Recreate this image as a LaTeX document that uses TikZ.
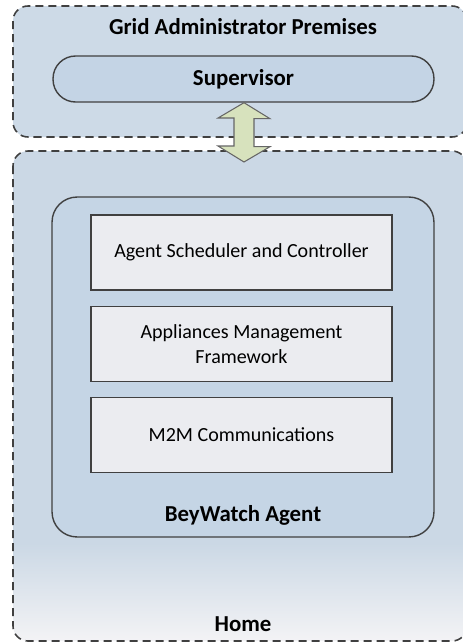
\documentclass[tikz,border=0pt]{standalone}
\usepackage{fontspec}
\setmainfont{Carlito}
\usetikzlibrary{calc}

\definecolor{bordo}{HTML}{404040}
\definecolor{gridblu}{HTML}{CDDAE7}
\definecolor{supblu}{HTML}{C4D4E5}
\definecolor{agenteblu}{HTML}{C5D5E5}
\definecolor{modgrigio}{HTML}{EBECF0}
\definecolor{frecciaverde}{HTML}{D7E2BD}
\definecolor{casablu}{HTML}{CBD8E5}
\definecolor{casabasso}{HTML}{F3F3F5}

% Sfumatura del riquadro Home (chiaro solo in fondo)
\pgfdeclareverticalshading{casashade}{100bp}{color(0bp)=(casabasso); color(25bp)=(casabasso); color(35bp)=(casablu); color(100bp)=(casablu)}

\tikzset{
  zona/.style={draw=bordo, line width=0.9pt, dash pattern=on 4.6pt off 2.8pt, rounded corners=0.3cm},
  titolo/.style={font=\bfseries\fontsize{13}{15}\selectfont, text=black},
  modulo/.style={draw=bordo, line width=0.9pt, fill=modgrigio, minimum width=6.02cm, minimum height=1.5cm,
                 align=center, font=\fontsize{11.4}{14}\selectfont, inner sep=2pt},
}

\begin{document}
\begin{tikzpicture}[x=0.02cm, y=-0.02cm]
    \useasboundingbox (0,0) rectangle (463,643);

    % Zona amministratore
    \draw[zona, fill=gridblu] (13,6) rectangle (467,137);
    \node[titolo] (gridtitle) at (243,27) {Grid Administrator Premises};
    \node[draw=bordo, line width=0.8pt, fill=supblu, rounded corners=0.45cm,
          minimum width=7.62cm, minimum height=0.92cm, titolo] (sup) at (243.5,79) {Supervisor};

    % Zona casa
    \shadedraw[zona, shading=casashade] (13,151) rectangle (467,641);
    \coordinate (home) at (243,151);
    \node[titolo] (hometitle) at (243,624) {Home};

    % Agente
    \node[draw=bordo, line width=0.8pt, fill=agenteblu, rounded corners=0.5cm,
          minimum width=7.64cm, minimum height=6.8cm] (agent) at (243,367) {};
    \node[titolo] (agenttitle) at (243,515) {BeyWatch Agent};

    \node[modulo] (sched) at (241.5,252.5) {Agent Scheduler and Controller};
    \node[modulo] (amf) at (241.5,344) {Appliances Management\\Framework};
    \node[modulo] (m2m) at (241.5,435) {M2M Communications};

    % Freccia doppia
    \coordinate (arrtop) at ($(sup.south)+(0.5,0)$);
    \coordinate (arrbot) at ($(home)+(1,11)$);
    \draw[draw=gray!80!black, line width=0.6pt, fill=frecciaverde]
      (arrtop) -- ++(0.52cm,-0.32cm) -- ++(-0.32cm,0) -- ++(0,-0.56cm) -- ++(0.32cm,0)
      -- (arrbot) -- ++(-0.52cm,0.32cm) -- ++(0.32cm,0) -- ++(0,0.56cm) -- ++(-0.32cm,0) -- cycle;
\end{tikzpicture}
\end{document}
